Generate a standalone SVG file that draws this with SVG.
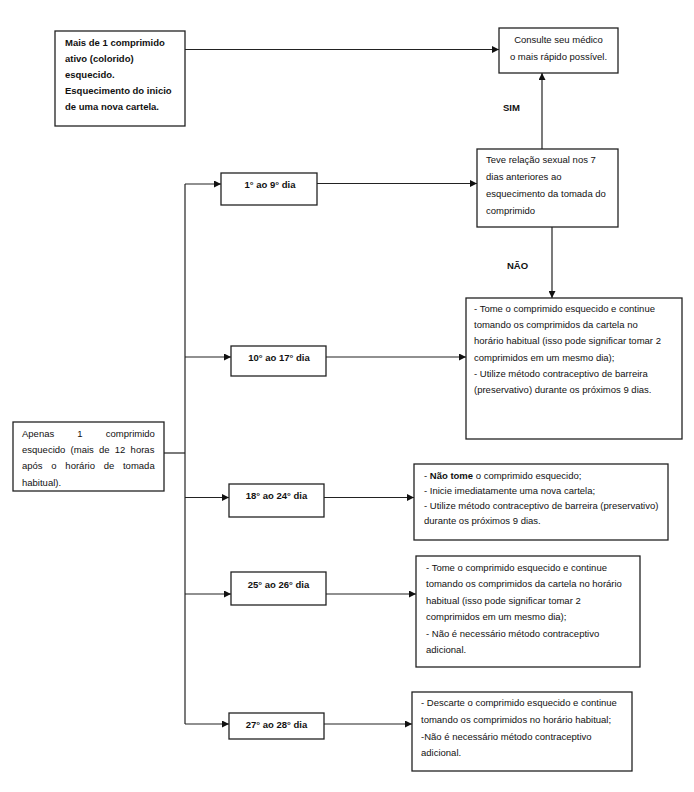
<svg xmlns="http://www.w3.org/2000/svg" width="694" height="792" viewBox="0 0 694 792">
<defs>
<marker id="ah" viewBox="0 0 10 10" refX="10" refY="5" markerWidth="7" markerHeight="7" markerUnits="userSpaceOnUse" orient="auto">
<path d="M0,0 L10,5 L0,10 z" fill="#111"/>
</marker>
<style>
.box{fill:#fff;stroke:#222;stroke-width:1.3}
.ln{fill:none;stroke:#222;stroke-width:1.2}
.t{font-family:"Liberation Sans",Arial,sans-serif;font-size:9.5px;fill:#111}
.b{font-weight:bold}
.c{text-anchor:middle}
</style>
</defs>
<rect width="694" height="792" fill="#fff"/>

<g id="connectors">
<line class="ln" x1="185" y1="49.5" x2="499" y2="49.5" marker-end="url(#ah)"/>
<line class="ln" x1="542" y1="149" x2="542" y2="73" marker-end="url(#ah)"/>
<line class="ln" x1="552" y1="227" x2="552" y2="298" marker-end="url(#ah)"/>
<line class="ln" x1="185" y1="184" x2="185" y2="724"/>
<line class="ln" x1="164" y1="453" x2="185" y2="453"/>
<line class="ln" x1="185" y1="184" x2="221" y2="184" marker-end="url(#ah)"/>
<line class="ln" x1="185" y1="357" x2="231" y2="357" marker-end="url(#ah)"/>
<line class="ln" x1="185" y1="497.5" x2="229" y2="497.5" marker-end="url(#ah)"/>
<line class="ln" x1="185" y1="594" x2="231" y2="594" marker-end="url(#ah)"/>
<line class="ln" x1="185" y1="724" x2="229" y2="724" marker-end="url(#ah)"/>
<line class="ln" x1="317" y1="183.5" x2="477" y2="183.5" marker-end="url(#ah)"/>
<line class="ln" x1="326" y1="357" x2="466" y2="357" marker-end="url(#ah)"/>
<line class="ln" x1="324" y1="497.5" x2="414" y2="497.5" marker-end="url(#ah)"/>
<line class="ln" x1="326" y1="594" x2="416" y2="594" marker-end="url(#ah)"/>
<line class="ln" x1="324" y1="724" x2="412" y2="724" marker-end="url(#ah)"/>
<text class="t b" x="503" y="110.5">SIM</text>
<text class="t b" x="507" y="268.5">NÃO</text>
</g>

<g id="mais">
<rect class="box" x="55" y="31" width="130" height="95"/>
<text class="t b" x="65" y="46">Mais de 1 comprimido</text>
<text class="t b" x="65" y="61.5">ativo (colorido)</text>
<text class="t b" x="65" y="77.5">esquecido.</text>
<text class="t b" x="65" y="94">Esquecimento do inicio</text>
<text class="t b" x="65" y="110">de uma nova cartela.</text>
</g>

<g id="consulte">
<rect class="box" x="499" y="28" width="119" height="45"/>
<text class="t c" x="558.5" y="42.5">Consulte seu médico</text>
<text class="t c" x="558.5" y="59.5">o mais rápido possível.</text>
</g>

<g id="teve">
<rect class="box" x="477" y="149" width="141" height="78"/>
<text class="t" x="486" y="162.5">Teve relação sexual nos 7</text>
<text class="t" x="486" y="180">dias anteriores ao</text>
<text class="t" x="486" y="196.5">esquecimento da tomada do</text>
<text class="t" x="486" y="213.5">comprimido</text>
</g>

<g id="nao">
<rect class="box" x="466" y="298" width="216" height="141"/>
<text class="t" x="474" y="311.5">- Tome o comprimido esquecido e continue</text>
<text class="t" x="474" y="327.5">tomando os comprimidos da cartela no</text>
<text class="t" x="474" y="344">horário habitual (isso pode significar tomar 2</text>
<text class="t" x="474" y="360.5">comprimidos em um mesmo dia);</text>
<text class="t" x="474" y="376.5">- Utilize método contraceptivo de barreira</text>
<text class="t" x="474" y="393">(preservativo) durante os próximos 9 dias.</text>
</g>

<g id="apenas">
<rect class="box" x="13" y="422" width="151" height="69"/>
<text class="t" x="22" y="436.5" word-spacing="20.5">Apenas 1 comprimido</text>
<text class="t" x="22" y="452.5" word-spacing="2.6">esquecido (mais de 12 horas</text>
<text class="t" x="22" y="468.5" word-spacing="6.1">após o horário de tomada</text>
<text class="t" x="22" y="485.5">habitual).</text>
</g>

<g id="d1">
<rect class="box" x="221" y="173" width="96" height="32"/>
<text class="t b c" x="270" y="187.5">1° ao 9° dia</text>
</g>

<g id="d10">
<rect class="box" x="231" y="346" width="95" height="30"/>
<text class="t b c" x="279" y="360.5">10° ao 17° dia</text>
</g>

<g id="d18">
<rect class="box" x="229" y="484" width="95" height="33"/>
<text class="t b c" x="276.5" y="498.5">18° ao 24° dia</text>
</g>

<g id="d25">
<rect class="box" x="231" y="572" width="95" height="33"/>
<text class="t b c" x="278.5" y="587.5">25° ao 26° dia</text>
</g>

<g id="d27">
<rect class="box" x="229" y="713" width="95" height="26"/>
<text class="t b c" x="276.5" y="727.5">27° ao 28° dia</text>
</g>

<g id="t18">
<rect class="box" x="414" y="464" width="254" height="76"/>
<text class="t" x="424" y="478.5">- <tspan class="b">Não tome</tspan> o comprimido esquecido;</text>
<text class="t" x="424" y="493.5">- Inicie imediatamente uma nova cartela;</text>
<text class="t" x="424" y="508.5">- Utilize método contraceptivo de barreira (preservativo)</text>
<text class="t" x="424" y="524">durante os próximos 9 dias.</text>
</g>

<g id="t25">
<rect class="box" x="416" y="556" width="224" height="111"/>
<text class="t" x="426" y="570.5">- Tome o comprimido esquecido e continue</text>
<text class="t" x="426" y="587">tomando os comprimidos da cartela no horário</text>
<text class="t" x="426" y="603.5">habitual (isso pode significar tomar 2</text>
<text class="t" x="426" y="620">comprimidos em um mesmo dia);</text>
<text class="t" x="426" y="636.5">- Não é necessário método contraceptivo</text>
<text class="t" x="426" y="653">adicional.</text>
</g>

<g id="t27">
<rect class="box" x="412" y="692" width="220" height="79"/>
<text class="t" x="421" y="705.5">- Descarte o comprimido esquecido e continue</text>
<text class="t" x="421" y="722.5">tomando os comprimidos no horário habitual;</text>
<text class="t" x="421" y="739.5">-Não é necessário método contraceptivo</text>
<text class="t" x="421" y="755.5">adicional.</text>
</g>
</svg>
